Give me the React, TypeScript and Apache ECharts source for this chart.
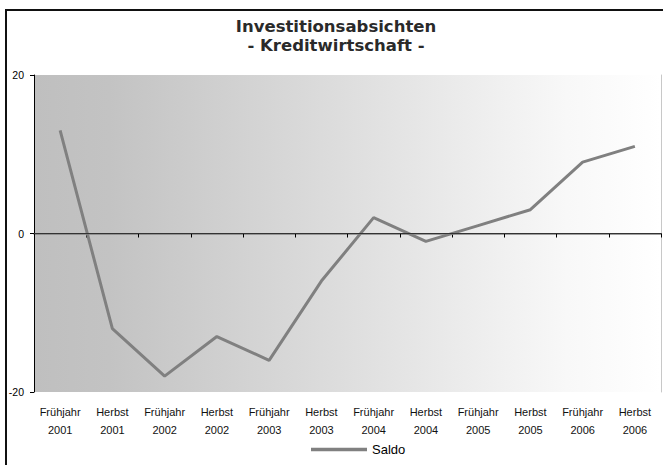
import React, { useEffect, useRef } from "react";
import * as echarts from "echarts";

const categories = [
  "Frühjahr\n2001", "Herbst\n2001", "Frühjahr\n2002", "Herbst\n2002",
  "Frühjahr\n2003", "Herbst\n2003", "Frühjahr\n2004", "Herbst\n2004",
  "Frühjahr\n2005", "Herbst\n2005", "Frühjahr\n2006", "Herbst\n2006",
];
const saldo = [13, -12, -18, -13, -16, -6, 2, -1, 1, 3, 9, 11];
const yTicks = { min: -20, max: 20, interval: 20 };
const titleLines = ["Investitionsabsichten", "- Kreditwirtschaft -"];
const seriesName = "Saldo";

export default function App() {
  const ref = useRef<HTMLDivElement>(null);
  useEffect(() => {
    document.body.style.margin = "0";
    const chart = echarts.init(ref.current!, null, { renderer: "svg" });
    const font = "Arial, 'Liberation Sans', sans-serif";
    const titleStyle = {
      align: "center",
      verticalAlign: "middle",
      fontFamily: "'DejaVu Sans', sans-serif",
      fontWeight: "bold",
      fontSize: 16.5,
      fill: "#2a2a2a",
    };
    chart.setOption({
      animation: false,
      graphic: [
        {
          type: "rect",
          z: -1,
          shape: { x: 6, y: 10, width: 800, height: 600 },
          style: { fill: "none", stroke: "#111", lineWidth: 2 },
        },
        {
          type: "text",
          x: 336,
          y: 26.5,
          style: { ...titleStyle, text: titleLines[0] },
        },
        {
          type: "text",
          x: 336,
          y: 45,
          style: { ...titleStyle, text: titleLines[1] },
        },
      ],
      legend: {
        data: [seriesName],
        left: 306,
        top: 438,
        icon: "rect",
        itemWidth: 56,
        itemHeight: 3.5,
        textStyle: { fontSize: 13, color: "#000", fontFamily: font },
      },
      grid: {
        left: 34,
        right: 2,
        top: 75,
        bottom: 73,
        show: true,
        borderWidth: 0,
        backgroundColor: new echarts.graphic.LinearGradient(0, 0, 1, 0, [
          { offset: 0, color: "#bfbfbf" },
          { offset: 0.12, color: "#c3c3c3" },
          { offset: 0.5, color: "#dedede" },
          { offset: 0.85, color: "#f8f8f8" },
          { offset: 1, color: "#ffffff" },
        ]),
      },
      xAxis: [
        {
          type: "category",
          data: categories,
          position: "bottom",
          boundaryGap: true,
          axisLine: { show: true, lineStyle: { color: "#000", width: 1 } },
          axisTick: { show: true, length: 4, inside: false, alignWithLabel: false, interval: 0, lineStyle: { color: "#000" } },
          axisLabel: {
            interval: 0,
            fontSize: 11,
            lineHeight: 18,
            margin: 11,
            color: "#111",
            fontFamily: font,
          },
          splitLine: { show: false },
        },
        {
          type: "category",
          data: categories,
          position: "top",
          axisLine: { show: true, lineStyle: { color: "#808080", width: 1.5 } },
          axisTick: { show: false },
          axisLabel: { show: false },
          splitLine: { show: false },
        },
      ],
      yAxis: [
        {
          type: "value",
          min: yTicks.min,
          max: yTicks.max,
          interval: yTicks.interval,
          position: "left",
          axisLine: { show: true, lineStyle: { color: "#000", width: 1 } },
          axisTick: { show: true, length: 4, inside: false, lineStyle: { color: "#000" } },
          axisLabel: { fontSize: 10.5, margin: 10, color: "#000", fontFamily: font },
          splitLine: { show: false },
        },
        {
          type: "value",
          min: yTicks.min,
          max: yTicks.max,
          interval: yTicks.interval,
          position: "right",
          axisLine: { show: true, lineStyle: { color: "#c8c8c8", width: 1 } },
          axisTick: { show: false },
          axisLabel: { show: false },
          splitLine: { show: false },
        },
      ],
      series: [
        {
          name: seriesName,
          type: "line",
          data: saldo,
          symbol: "none",
          color: "#808080",
          lineStyle: { color: "#808080", width: 3 },
          markLine: {
            silent: true,
            symbol: "none",
            label: { show: false },
            lineStyle: { color: "#333", width: 1, type: "solid" },
            data: [{ yAxis: 0 }],
          },
        },
      ],
    });
    return () => chart.dispose();
  }, []);
  return <div ref={ref} style={{ width: 663, height: 465 }} />;
}
